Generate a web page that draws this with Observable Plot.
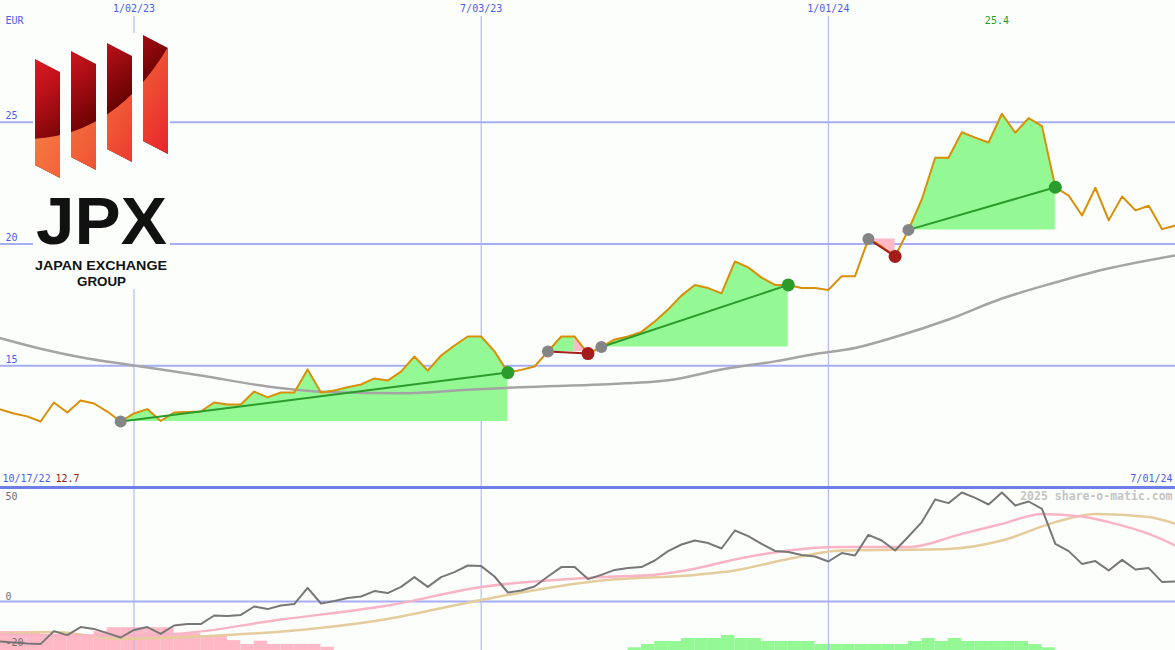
<!DOCTYPE html>
<html><head><meta charset="utf-8">
<script src="https://cdn.jsdelivr.net/npm/d3@7"></script>
<script src="https://cdn.jsdelivr.net/npm/@observablehq/plot@0.6"></script>
<style>
html,body{margin:0;padding:0;background:#fcfefc;}
#wrap{position:relative;width:1175px;height:650px;overflow:hidden;background:#fcfefc;}
#top,#bot,#hist,#logo{position:absolute;left:0;}
#top{top:0}
#hist{top:487px}
#bot{top:487px}
#logo{top:0}
svg{display:block}
</style></head><body>
<div id="wrap"><div id="top"></div><div id="hist"></div><div id="bot"></div>
<svg id="logo" width="180" height="300" viewBox="0 0 180 300">
<defs>
<linearGradient id="gTop" gradientUnits="userSpaceOnUse" x1="30" y1="40" x2="100" y2="130">
<stop offset="0" stop-color="#ea2129"/><stop offset="0.4" stop-color="#c0121a"/><stop offset="1" stop-color="#5e0000"/>
</linearGradient>
<linearGradient id="gBot" gradientUnits="userSpaceOnUse" x1="50" y1="110" x2="160" y2="175">
<stop offset="0" stop-color="#f47a42"/><stop offset="0.45" stop-color="#f05a36"/><stop offset="1" stop-color="#e8202c"/>
</linearGradient>
<clipPath id="bars"><path d="M35,59 L60,72 L60,178 L35,165Z M71,51 L96,64 L96,170 L71,157Z M107,43 L132,56 L132,162 L107,149Z M143,35 L168,48 L168,154 L143,141Z"/></clipPath>
</defs>
<rect x="33" y="33" width="137" height="256" fill="#fcfefc"/>
<g clip-path="url(#bars)">
<rect x="30" y="30" width="145" height="155" fill="url(#gTop)"/>
<path d="M30,139 Q118,136 172,40 L172,185 L30,185Z" fill="url(#gBot)"/>
</g>
<text x="36" y="244" font-family="Liberation Sans, Arial, sans-serif" font-weight="bold" font-size="66" fill="#111" textLength="131" lengthAdjust="spacingAndGlyphs">JPX</text>
<text x="35" y="269.5" font-family="Liberation Sans, Arial, sans-serif" font-weight="bold" font-size="12.5" fill="#111" textLength="132" lengthAdjust="spacingAndGlyphs">JAPAN EXCHANGE</text>
<text x="101.5" y="286" text-anchor="middle" font-family="Liberation Sans, Arial, sans-serif" font-weight="bold" font-size="12.5" fill="#111" textLength="49" lengthAdjust="spacingAndGlyphs">GROUP</text>
</svg>
</div>
<script>
// ---- data ----
const firstWeek = "2022-10-24";
const lastDate = "2024-07-01";
const startLabel = "10/17/22";
const currency = "EUR";
const price = [13.20,13.04,12.92,12.71,13.49,13.08,13.57,13.45,13.12,12.71,
  13.04,13.22,12.73,13.08,13.10,13.12,13.49,13.41,13.41,13.94,
  13.70,13.90,13.90,14.85,13.90,13.98,14.12,14.23,14.48,14.39,
  14.76,15.38,14.80,15.42,15.83,16.20,16.20,15.59,14.72,14.83,
  14.97,15.59,16.20,16.20,15.50,15.77,16.08,16.20,16.39,16.82,
  17.31,17.88,18.32,18.19,17.97,19.28,19.04,18.62,18.32,18.32,
  18.19,18.19,18.11,18.68,18.68,20.21,19.90,19.49,20.58,21.83,
  23.54,23.54,24.59,24.37,24.17,25.35,24.57,25.17,24.84,22.33,
  21.99,21.17,22.31,20.97,21.95,21.38,21.57,20.61,20.76];
const maWeeks = [0,3,6,10,15,20,25,30,35,39,45,50,54,58,61,64,67,71,75,79,82,88];
const maValues = [16.13,15.70,15.35,15.01,14.60,14.15,13.91,13.87,14.01,14.12,14.23,14.40,14.85,15.18,15.48,15.73,16.18,16.90,17.76,18.42,18.87,19.53];
const signalStart = [9,41,45,65,68];
const signalEnd = [38,44,59,67,79];
const priceTicks = [15,20,25];
const dateTicks = ["2023-01-02","2023-07-03","2024-01-01"];

const momentum = [-20.0,-20.5,-21.0,-21.3,-14.8,-16.8,-12.8,-13.7,-15.8,-18.0,
  -14.2,-12.8,-16.2,-12.0,-11.3,-11.3,-7.0,-7.3,-6.7,-2.5,
  -3.8,-2.0,-1.3,6.8,-1.0,0.2,1.7,2.5,5.2,4.2,
  7.3,12.2,7.3,12.2,14.7,18.0,17.7,12.5,4.5,5.5,
  7.5,12.5,17.2,17.2,11.2,13.3,15.8,16.7,17.2,20.5,
  25.2,28.5,30.5,29.2,26.5,35.5,32.7,28.8,25.3,24.8,
  23.3,22.5,20.0,24.2,23.0,33.3,30.5,25.5,32.5,39.7,
  51.0,49.2,54.5,51.8,48.5,54.5,48.0,50.0,46.3,28.8,
  25.2,18.8,20.2,15.5,20.8,16.0,16.7,9.7,10.0];
const pinkWeeks = [0,7,13,21,29,36,45,49,52,55,59,63,68,72,75,78,81,83,86,88];
const pinkValues = [-16.5,-17.0,-16.2,-9.0,-2.0,7.2,12.2,13.4,16.4,21.0,25.5,27.2,27.2,33.8,38.8,43.8,42.5,39.7,33.8,28.0];
const tanWeeks = [0,4,9,14,29,36,45,52,55,59,63,71,75,79,82,86,88];
const tanValues = [-16.2,-15.3,-18.7,-17.8,-8.7,0.8,10.5,13.3,15.5,21.3,25.5,26.3,30.5,39.7,43.8,42.2,38.8];
const lowTicks = [50,0];
const lowBottomTick = -20;
const lossBarStart = 0;
const lossBars = [6.3,6.3,6.3,5,5,5,5,6.3,7.6,7.6,7.6,7.6,7.6,5.6,5.6,4.8,4.8,3.3,2,3.1,2,2,2,2,1.1];
const gainBarStart = 47;
const gainBars = [0.9,2,3,3,4,4,4,5,4,4,3,3,3,3,2,2,2,2,2,2,2,3,4,3,4,3,3,3,3,3,2,0.9];
const watermark = "2025 share-o-matic.com";

// ---- build ----
const parse = d3.utcParse("%Y-%m-%d");
const t0 = parse(firstWeek);
const wk = i => d3.utcDay.offset(t0, 7 * i);
const fmt = d3.utcFormat("%-m/%d/%y");
const xDomain = [t0, parse(lastDate)];
const priceData = price.map((p, i) => ({date: wk(i), p}));
const maData = maWeeks.map((w, i) => ({date: wk(w), v: maValues[i]}));
const GREEN = "#2b9b2b", RED = "#a51c1c";
const signals = signalStart.map((s, k) => {
  const e = signalEnd[k];
  return {d1: wk(s), p1: price[s], d2: wk(e), p2: price[e], gain: price[e] >= price[s], s, e};
});
const greenFill = [], pinkFill = [];
signals.forEach((sg, k) => {
  let split = sg.e;
  if (!sg.gain) { let m = sg.s; for (let i = sg.s; i <= sg.e; i++) if (price[i] >= price[m]) m = i; split = m; }
  for (let i = sg.s; i <= split; i++) greenFill.push({date: wk(i), base: sg.p1, p: price[i], seg: k});
  if (!sg.gain) for (let i = split; i <= sg.e; i++) pinkFill.push({date: wk(i), base: sg.p1, p: price[i], seg: k});
});
const maxI = d3.maxIndex(price), minV = d3.min(price);
const textStyle = {fontFamily: "DejaVu Sans Mono, monospace", fontSize: "10px", background: "transparent", overflow: "visible"};
const BLUE = "#4c5cf0", GRID = "#a6aef3";

const topPlot = Plot.plot({
  width: 1175, height: 487, marginTop: 0, marginRight: 0, marginBottom: 0, marginLeft: 0,
  x: {type: "utc", domain: xDomain, axis: null},
  y: {domain: [10, 30], axis: null},
  color: {type: "identity"},
  style: textStyle,
  marks: [
    Plot.ruleY(priceTicks, {stroke: GRID, strokeWidth: 2}),
    Plot.ruleX(dateTicks.map(parse), {stroke: GRID, strokeWidth: 1, insetTop: 16}),
    Plot.areaY(greenFill, {x: "date", y1: "base", y2: "p", z: "seg", fill: "#94f994"}),
    Plot.areaY(pinkFill, {x: "date", y1: "base", y2: "p", z: "seg", fill: "#ffb8c6"}),
    Plot.line(maData, {x: "date", y: "v", stroke: "#a4a4a4", strokeWidth: 2.5, curve: "monotone-x"}),
    Plot.line(priceData, {x: "date", y: "p", stroke: "#d98f06", strokeWidth: 2}),
    Plot.link(signals, {x1: "d1", y1: "p1", x2: "d2", y2: "p2", stroke: d => d.gain ? GREEN : RED, strokeWidth: 2}),
    Plot.dot(signals, {x: "d1", y: "p1", r: 6, fill: "#858585"}),
    Plot.dot(signals, {x: "d2", y: "p2", r: 6.5, fill: d => d.gain ? GREEN : RED}),
    Plot.text(dateTicks, {x: d => parse(d), text: d => fmt(parse(d)), frameAnchor: "top", dy: 8, fill: BLUE, lineAnchor: "middle"}),
    Plot.text(priceTicks, {y: d => d, text: d => String(d), frameAnchor: "left", dx: 5, dy: -6, textAnchor: "start", fill: BLUE, lineAnchor: "middle"}),
    Plot.text([currency], {text: d => d, frameAnchor: "top-left", dx: 5, dy: 20, textAnchor: "start", fill: BLUE, lineAnchor: "middle"}),
    Plot.text([maxI], {x: i => wk(i), text: i => price[i].toFixed(1), frameAnchor: "top", dx: -5, dy: 20, fill: "#22a022", lineAnchor: "middle"}),
    Plot.text([startLabel], {text: d => d, frameAnchor: "bottom-left", dx: 2, dy: -9, textAnchor: "start", fill: BLUE, lineAnchor: "middle"}),
    Plot.text([minV], {text: d => d.toFixed(1), frameAnchor: "bottom-left", dx: 55, dy: -9, textAnchor: "start", fill: "#a01818", lineAnchor: "middle"}),
    Plot.text([parse(lastDate)], {text: d => fmt(d), frameAnchor: "bottom-right", dx: -3, dy: -9, textAnchor: "end", fill: BLUE, lineAnchor: "middle"})
  ]
});
document.getElementById("top").append(topPlot);

const bars = [
  ...lossBars.map((v, i) => ({x1: wk(lossBarStart + i), x2: wk(lossBarStart + i + 1), v, c: "#ffb8c6"})),
  ...gainBars.map((v, i) => ({x1: wk(gainBarStart + i), x2: wk(gainBarStart + i + 1), v, c: "#94f994"}))
];
const histPlot = Plot.plot({
  width: 1175, height: 163, marginTop: 0, marginRight: 0, marginBottom: 0, marginLeft: 0,
  x: {type: "utc", domain: xDomain, axis: null},
  y: {domain: [0, 163 / 3], axis: null},
  color: {type: "identity"},
  style: textStyle,
  marks: [Plot.rectY(bars, {x1: "x1", x2: "x2", y: "v", fill: "c"})]
});
document.getElementById("hist").append(histPlot);

const lowPlot = Plot.plot({
  width: 1175, height: 163, marginTop: 0, marginRight: 0, marginBottom: 0, marginLeft: 0,
  x: {type: "utc", domain: xDomain, axis: null},
  y: {domain: [-24.5, 57], axis: null},
  style: textStyle,
  marks: [
    Plot.ruleY([0], {stroke: GRID, strokeWidth: 2}),
    Plot.ruleX(dateTicks.map(parse), {stroke: GRID, strokeWidth: 1}),
    Plot.frame({anchor: "top", stroke: "#6e7ee9", strokeWidth: 3}),
    Plot.line(tanWeeks.map((w, i) => ({d: wk(w), v: tanValues[i]})), {x: "d", y: "v", stroke: "#e4cc9c", strokeWidth: 2.5, curve: "monotone-x"}),
    Plot.line(pinkWeeks.map((w, i) => ({d: wk(w), v: pinkValues[i]})), {x: "d", y: "v", stroke: "#f8b4c4", strokeWidth: 2.5, curve: "monotone-x"}),
    Plot.line(momentum.map((v, i) => ({d: wk(i), v})), {x: "d", y: "v", stroke: "#777777", strokeWidth: 2}),
    Plot.text(lowTicks, {y: d => d, text: d => String(d), frameAnchor: "left", dx: 5, dy: -5, textAnchor: "start", fill: "#707070", lineAnchor: "middle"}),
    Plot.text([lowBottomTick], {y: d => d, text: d => String(d), frameAnchor: "left", dx: 5, dy: 1.5, textAnchor: "start", fill: "#707070", lineAnchor: "middle"}),
    Plot.text([watermark], {text: d => d, frameAnchor: "top-right", dx: -3, dy: 9, textAnchor: "end", fill: "#c4c4c4", fontWeight: "bold", fontSize: 11.5, lineAnchor: "middle"})
  ]
});
document.getElementById("bot").append(lowPlot);
</script>
</body></html>
